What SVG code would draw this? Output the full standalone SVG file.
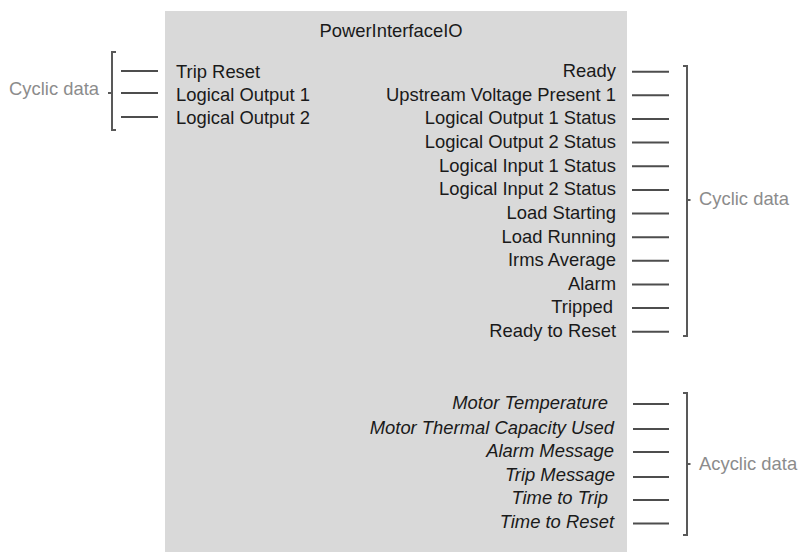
<svg xmlns="http://www.w3.org/2000/svg" width="799" height="552" viewBox="0 0 799 552">
<style>
.t{font-family:"Liberation Sans",Arial,sans-serif;font-size:18.4px;fill:#1a1a1a}
.r{text-anchor:end}
.i{font-style:italic}
.lbl{font-family:"Liberation Sans",Arial,sans-serif;font-size:18.4px;fill:#8c8c8c}
.ln{stroke:#4d4d4d;stroke-width:2;fill:none}
.br{stroke:#595959;stroke-width:2;fill:none}
</style>
<rect width="799" height="552" fill="#ffffff"/>
<g id="block">
<rect x="165" y="11" width="462" height="545" fill="#d9d9d9"/>
<text class="t" x="391" y="37" text-anchor="middle">PowerInterfaceIO</text>
</g>
<g id="inputs">
<text class="t" x="176" y="77.5">Trip Reset</text>
<text class="t" x="176" y="101">Logical Output 1</text>
<text class="t" x="176" y="124">Logical Output 2</text>
</g>
<g id="cyclic-outputs">
<text class="t r" x="616" y="77">Ready</text>
<text class="t r" x="616" y="100.6">Upstream Voltage Present 1</text>
<text class="t r" x="616" y="124.3">Logical Output 1 Status</text>
<text class="t r" x="616" y="147.9">Logical Output 2 Status</text>
<text class="t r" x="616" y="171.6">Logical Input 1 Status</text>
<text class="t r" x="616" y="195.2">Logical Input 2 Status</text>
<text class="t r" x="616" y="218.8">Load Starting</text>
<text class="t r" x="616" y="242.5">Load Running</text>
<text class="t r" x="616" y="266.1">Irms Average</text>
<text class="t r" x="616" y="289.8">Alarm</text>
<text class="t r" x="613" y="313.4">Tripped</text>
<text class="t r" x="616" y="337">Ready to Reset</text>
</g>
<g id="acyclic-outputs">
<text class="t r i" x="608" y="409">Motor Temperature</text>
<text class="t r i" x="614" y="433.5">Motor Thermal Capacity Used</text>
<text class="t r i" x="614" y="456.5">Alarm Message</text>
<text class="t r i" x="615" y="481">Trip Message</text>
<text class="t r i" x="608" y="504">Time to Trip</text>
<text class="t r i" x="614" y="527.5">Time to Reset</text>
</g>
<g id="connectors">
<path class="ln" d="M121 71H158M121 93H158M121 117H158"/>
<path class="ln" d="M632 71.7H669M632 95.3H669M632 119H669M632 142.6H669M632 166.3H669M632 189.9H669M632 213.5H669M632 237.2H669M632 260.8H669M632 284.5H669M632 308.1H669M632 331.7H669"/>
<path class="ln" d="M633 404H669M633 429H669M633 452H669M633 477H669M633 500H669M633 523.5H669"/>
</g>
<g id="bracket-left">
<path class="br" d="M116 52H112V130H116M112 93H108"/>
<text class="lbl r" x="99" y="95">Cyclic data</text>
</g>
<g id="bracket-cyclic">
<path class="br" d="M683 66H687V336H683M687 200H690.5"/>
<text class="lbl" x="699" y="205">Cyclic data</text>
</g>
<g id="bracket-acyclic">
<path class="br" d="M683 393H687V535H683M687 464H690.5"/>
<text class="lbl" x="699" y="470">Acyclic data</text>
</g>
</svg>
